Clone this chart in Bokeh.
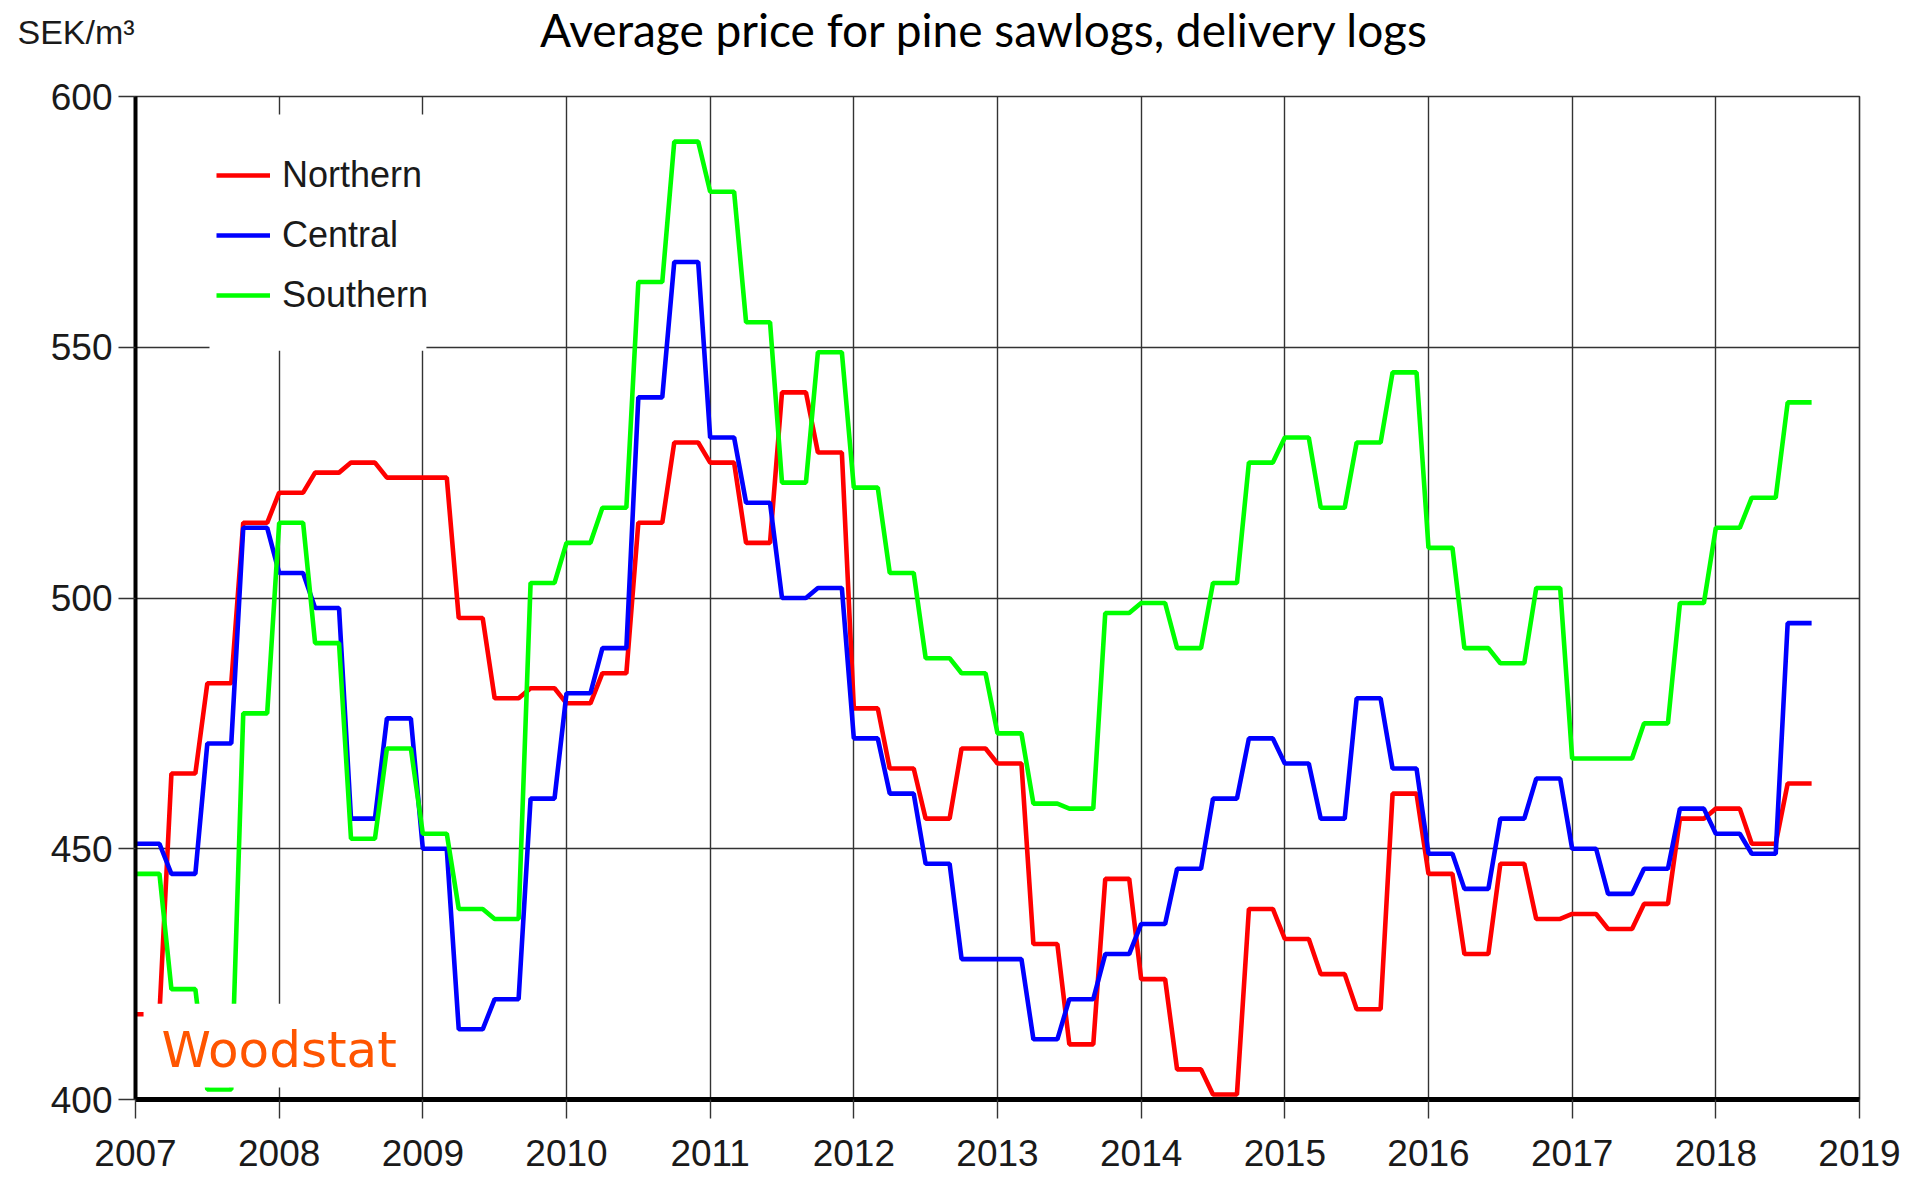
from bokeh.plotting import figure
from bokeh.layouts import column
from bokeh.models import Range1d, FixedTicker, Legend, LegendItem, Label, BoxAnnotation, ColumnDataSource
from bokeh.embed import file_html
from bokeh.resources import INLINE

# ---- data: quarterly average prices (SEK/m3), 2007Q1 .. 2018Q3 ----
start_year = 2007
northern = [417, 465, 483, 515, 521, 525, 527, 524, 524, 496, 480, 482,
            479, 485, 515, 531, 527, 511, 541, 529, 478, 466, 456, 470,
            467, 431, 411, 444, 424, 406, 401, 438, 432, 425, 418, 461,
            445, 429, 447, 436, 437, 434, 439, 456, 458, 451, 463]
central = [451, 445, 471, 514, 505, 498, 456, 476, 450, 414, 420, 460,
           481, 490, 540, 567, 532, 519, 500, 502, 472, 461, 447, 428,
           428, 412, 420, 429, 435, 446, 460, 472, 467, 456, 480, 466,
           449, 442, 456, 464, 450, 441, 446, 458, 453, 449, 495]
southern = [445, 422, 402, 477, 515, 491, 452, 470, 453, 438, 436, 503,
            511, 518, 563, 591, 581, 555, 523, 549, 522, 505, 488, 485,
            473, 459, 458, 497, 499, 490, 503, 527, 532, 518, 531, 545,
            510, 490, 487, 502, 468, 468, 475, 499, 514, 520, 539]
series_names = ["Northern", "Central", "Southern"]
series_colors = ["#ff0000", "#0000ff", "#00ff00"]
x_ticks = list(range(2007, 2020))
y_ticks = [400, 450, 500, 550, 600]

title_text = "Average price for pine sawlogs, delivery logs"
unit_text = "SEK/m\u00b3"
logo_text = "Woodstat"

FONT = "Liberation Sans"
W = 1903
HEAD_H = 70

# each quarterly value is reported for the 3 months of its quarter
def monthly(q):
    xs, ys = [], []
    for i, v in enumerate(q):
        for k in range(3):
            xs.append(start_year + (3 * i + k) / 12.0)
            ys.append(v)
    return xs, ys

# ---- header strip with the title and the unit label ----
head = figure(width=W, height=HEAD_H, min_border=0,
              x_range=Range1d(0, W), y_range=Range1d(0, HEAD_H),
              x_axis_location=None, y_axis_location=None,
              output_backend="svg", toolbar_location=None,
              background_fill_color="white", border_fill_color="white")
head.outline_line_color = None
head.grid.visible = False
head.add_layout(Label(x=984, y=41, text=title_text, text_font="Lato",
                      text_font_size="46px", text_color="black",
                      text_align="center", text_baseline="alphabetic"))
head.add_layout(Label(x=17, y=39, text=unit_text, text_font=FONT,
                      text_font_size="34px", text_color="#1a1a1a",
                      text_baseline="alphabetic"))

# ---- main chart ----
p = figure(frame_width=1724, frame_height=1003,
           min_border_left=135, min_border_right=W - 135 - 1724,
           min_border_top=96 - HEAD_H, min_border_bottom=79,
           x_range=Range1d(2007, 2019), y_range=Range1d(400, 600),
           output_backend="svg", toolbar_location=None,
           background_fill_color="white", border_fill_color="white")

for fig in (head, p):
    if "frame_align" in fig.properties():
        fig.frame_align = False

renderers = []
for name, col, q in zip(series_names, series_colors, [northern, central, southern]):
    xs, ys = monthly(q)
    src = ColumnDataSource(dict(x=xs, y=ys))
    r = p.line("x", "y", source=src, line_color=col, line_width=4.6)
    renderers.append(r)

p.xaxis.ticker = FixedTicker(ticks=x_ticks)
p.yaxis.ticker = FixedTicker(ticks=y_ticks)
p.xgrid.ticker = FixedTicker(ticks=x_ticks)
p.ygrid.ticker = FixedTicker(ticks=y_ticks)
for g in (p.xgrid, p.ygrid):
    g.grid_line_color = "#333333"
    g.grid_line_width = 1.4

p.outline_line_color = "#333333"
p.outline_line_width = 1.6

p.yaxis.axis_line_width = 4
p.yaxis.axis_line_color = "black"
p.xaxis.axis_line_width = 5
p.xaxis.axis_line_color = "black"
for ax in (p.xaxis, p.yaxis):
    ax.major_tick_line_color = "#333333"
    ax.major_tick_line_width = 1.4
    ax.minor_tick_line_color = None
    ax.major_tick_in = 0
    ax.major_label_text_font = FONT
    ax.major_label_text_font_size = "37px"
    ax.major_label_text_color = "#1a1a1a"
p.xaxis.major_tick_out = 19
p.yaxis.major_tick_out = 17
p.xaxis.major_label_standoff = 21
p.yaxis.major_label_standoff = 6

# white area behind the legend (interrupts the grid lines as in the original)
p.add_layout(BoxAnnotation(left=2007.515, right=2009.025, bottom=549.3, top=596.4,
                           fill_color="white", fill_alpha=1.0, line_alpha=0,
                           level="underlay"))

legend = Legend(items=[LegendItem(label=n, renderers=[r]) for n, r in zip(series_names, renderers)],
                location=(74, 769), padding=7, spacing=4,
                glyph_width=54, glyph_height=56, label_height=56, label_standoff=12,
                label_text_font=FONT, label_text_font_size="36px",
                label_text_color="#1a1a1a",
                background_fill_alpha=0, border_line_alpha=0)
p.add_layout(legend, "center")

# logo with its white backing box
p.add_layout(BoxAnnotation(left=2007.056, right=2008.95, bottom=402.4, top=419.1,
                           fill_color="white", fill_alpha=1.0, line_alpha=0))
p.add_layout(Label(x=2007.181, y=409.8, text=logo_text, text_font="DejaVu Sans",
                   text_font_size="50px", text_color="#ff5500", text_baseline="alphabetic"))

layout = column(head, p, spacing=0)
open("out.html", "w").write(file_html(layout, INLINE))
